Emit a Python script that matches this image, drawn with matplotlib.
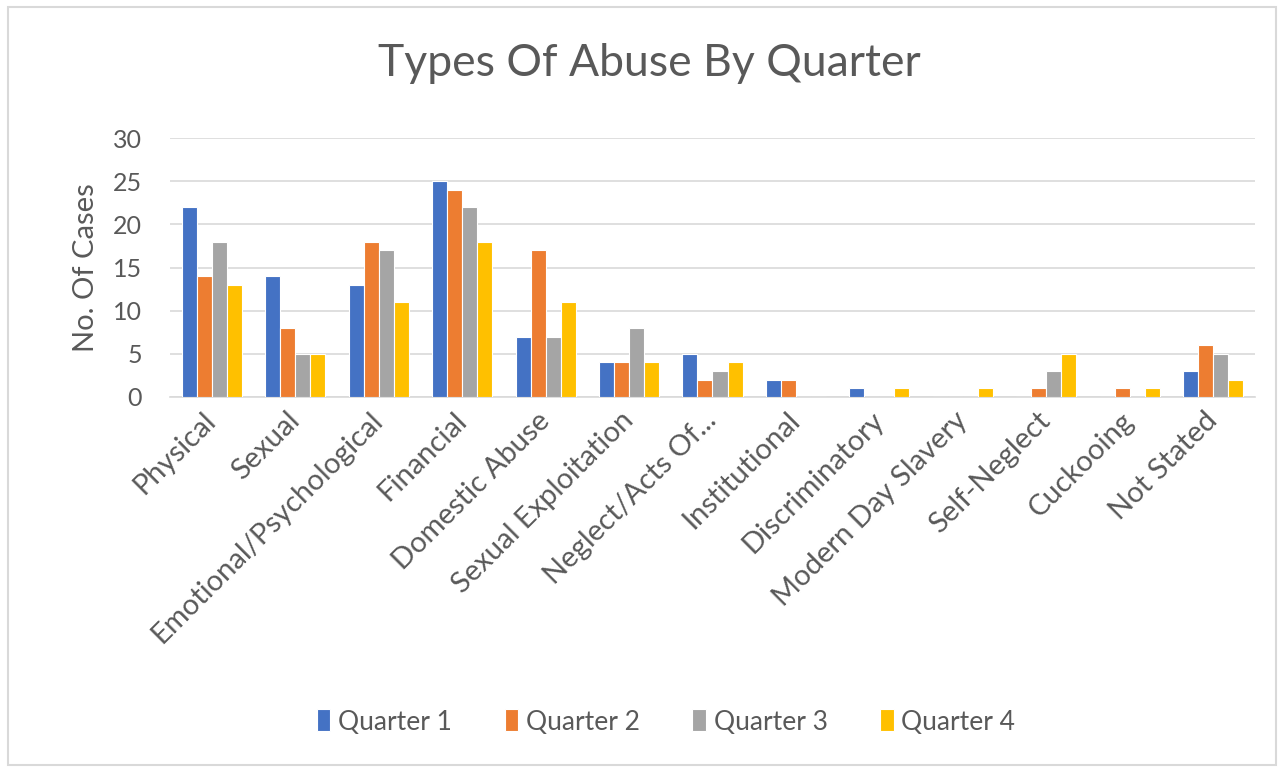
import matplotlib
matplotlib.use("Agg")
import matplotlib.pyplot as plt
import numpy as np
from matplotlib.patches import Rectangle

categories = ["Physical", "Sexual", "Emotional/Psychological", "Financial",
              "Domestic Abuse", "Sexual Exploitation", "Neglect/Acts Of...",
              "Institutional", "Discriminatory", "Modern Day Slavery",
              "Self-Neglect", "Cuckooing", "Not Stated"]
quarter_1 = [22, 14, 13, 25, 7, 4, 5, 2, 1, 0, 0, 0, 3]
quarter_2 = [14, 8, 18, 24, 17, 4, 2, 2, 0, 0, 1, 1, 6]
quarter_3 = [18, 5, 17, 22, 7, 8, 3, 0, 0, 0, 3, 0, 5]
quarter_4 = [13, 5, 11, 18, 11, 4, 4, 0, 1, 1, 5, 1, 2]
series_names = ["Quarter 1", "Quarter 2", "Quarter 3", "Quarter 4"]
colors = ["#4472C4", "#ED7D31", "#A5A5A5", "#FFC000"]

plt.rcParams['font.family'] = ['Lato', 'DejaVu Sans']
text_color = "#595959"

fig = plt.figure(figsize=(12.86, 7.71), dpi=100)
ax = fig.add_axes([170 / 1286, 1 - 397 / 771, 1085 / 1286, 259 / 771])

# light frame around the whole chart
fig.patches.append(Rectangle((8 / 1286, 6 / 771), 1268 / 1286, 758 / 771,
                             transform=fig.transFigure, fill=False,
                             edgecolor="#D9D9D9", linewidth=1.5))

x = np.arange(len(categories))
width = 0.18
for i, (name, vals) in enumerate(zip(series_names,
                                     [quarter_1, quarter_2, quarter_3, quarter_4])):
    ax.bar(x + (i - 1.5) * width, vals, width, color=colors[i], label=name,
           edgecolor="white", linewidth=0.8, zorder=3)

ax.set_xlim(-0.5, len(categories) - 0.5)
ax.set_ylim(0, 30)
ax.set_yticks(range(0, 31, 5))
ax.yaxis.grid(True, color="#D9D9D9", linewidth=1.2, zorder=0)
for side in ["top", "right", "left"]:
    ax.spines[side].set_visible(False)
ax.spines["bottom"].set_color("#D9D9D9")
ax.spines["bottom"].set_linewidth(1.2)
ax.tick_params(axis="x", length=0, colors=text_color, labelsize=21, pad=14)
ax.tick_params(axis="y", length=0, colors=text_color, labelsize=18, pad=20)

ax.set_xticks(x)
ax.set_xticklabels(categories, rotation=45, ha="right", va="center",
                   rotation_mode="anchor")

ax.set_ylabel("No. Of Cases", fontsize=21, color=text_color, labelpad=10)
fig.text(0.505, 1 - 64 / 771, "Types Of Abuse By Quarter", ha="center",
         va="center", fontsize=32, color=text_color)

fig.legend(loc="center", bbox_to_anchor=(0.518, 1 - 722 / 771), ncol=4,
           frameon=False, fontsize=19, handlelength=0.5, handleheight=0.9,
           handletextpad=0.3, columnspacing=2.0, labelcolor=text_color)

fig.savefig("out.png", dpi=100)
